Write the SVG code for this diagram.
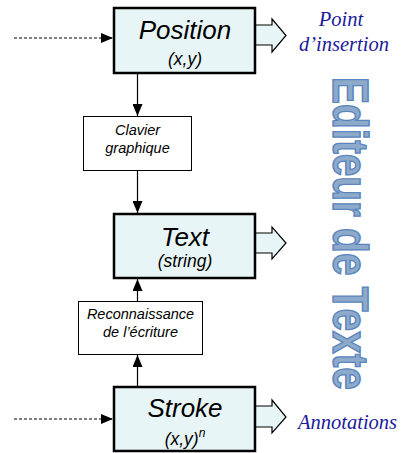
<svg xmlns="http://www.w3.org/2000/svg" width="401" height="453" viewBox="0 0 401 453">
<defs>
<marker id="ahl" viewBox="0 0 12 10" refX="12" refY="5" markerWidth="12" markerHeight="10" markerUnits="userSpaceOnUse" orient="auto">
<path d="M0,0 L12,5 L0,10 Z" fill="#000"/>
</marker>
</defs>
<style>
.main{fill:#e8f5f6;stroke:#000;stroke-width:2.5}
.small{fill:#fff;stroke:#000;stroke-width:1}
.t{font-family:"Liberation Sans",Arial,sans-serif;font-style:italic;fill:#000;text-anchor:middle}
.big{font-size:26px}
.sub{font-size:17.5px}
.lbl{font-size:14.5px}
.out{fill:#e8f5f6;stroke:#000;stroke-width:1.2}
.blue{font-family:"Liberation Serif","Times New Roman",serif;font-style:italic;font-size:20.5px;fill:#1a1a9c}
.line{stroke:#000;stroke-width:1.2;fill:none}
.dash{stroke:#000;stroke-width:1;stroke-dasharray:3,2;fill:none}
</style>
<g id="connectors">
<line class="dash" x1="14" y1="38" x2="113" y2="38" marker-end="url(#ahl)"/>
<line class="dash" x1="14" y1="419" x2="113" y2="419" marker-end="url(#ahl)"/>
<line class="line" x1="137.5" y1="73" x2="137.5" y2="116" marker-end="url(#ahl)"/>
<line class="line" x1="137.5" y1="171" x2="137.5" y2="213" marker-end="url(#ahl)"/>
<line class="line" x1="137.5" y1="387" x2="137.5" y2="355" marker-end="url(#ahl)"/>
<line class="line" x1="137.5" y1="301" x2="137.5" y2="279" marker-end="url(#ahl)"/>
<polygon class="out" points="255,25 272,25 272,19 286,35.5 272,52 272,45 255,45"/>
<polygon class="out" points="255,233 272,233 272,227 286,243 272,259 272,253 255,253"/>
<polygon class="out" points="255,406 272,406 272,400 286,417 272,433 272,427 255,427"/>
</g>
<g id="position">
<rect class="main" x="114" y="8" width="141" height="65"/>
<text class="t big" x="185" y="39">Position</text>
<text class="t sub" x="185" y="65">(x,y)</text>
</g>
<g id="clavier">
<rect class="small" x="83.5" y="116.5" width="108" height="54"/>
<text class="t lbl" x="137.5" y="135">Clavier</text>
<text class="t lbl" x="137.5" y="153">graphique</text>
</g>
<g id="text">
<rect class="main" x="114" y="214" width="141" height="64"/>
<text class="t big" x="185" y="246">Text</text>
<text class="t sub" x="185" y="267">(string)</text>
</g>
<g id="reconnaissance">
<rect class="small" x="78.5" y="301.5" width="124" height="53"/>
<text class="t lbl" x="140.5" y="319">Reconnaissance</text>
<text class="t lbl" x="140.5" y="337">de l’écriture</text>
</g>
<g id="stroke">
<rect class="main" x="114" y="387" width="141" height="64"/>
<text class="t big" x="185" y="417">Stroke</text>
<text class="t sub" x="185" y="445">(x,y)<tspan font-size="12" dy="-8">n</tspan></text>
</g>
<g id="labels">
<text class="blue" x="341" y="26" text-anchor="middle">Point</text>
<text class="blue" x="344" y="51" text-anchor="middle">d’insertion</text>
<text class="blue" x="298" y="429">Annotations</text>
</g>
<g id="title">
<text transform="translate(333,77) rotate(90) scale(0.812,1)" x="0" y="0" font-family="'Liberation Sans',Arial,sans-serif" font-weight="bold" font-size="50" fill="#8eaacb" stroke="#5a86bd" stroke-width="1.5">Editeur de Texte</text>
</g>
</svg>
